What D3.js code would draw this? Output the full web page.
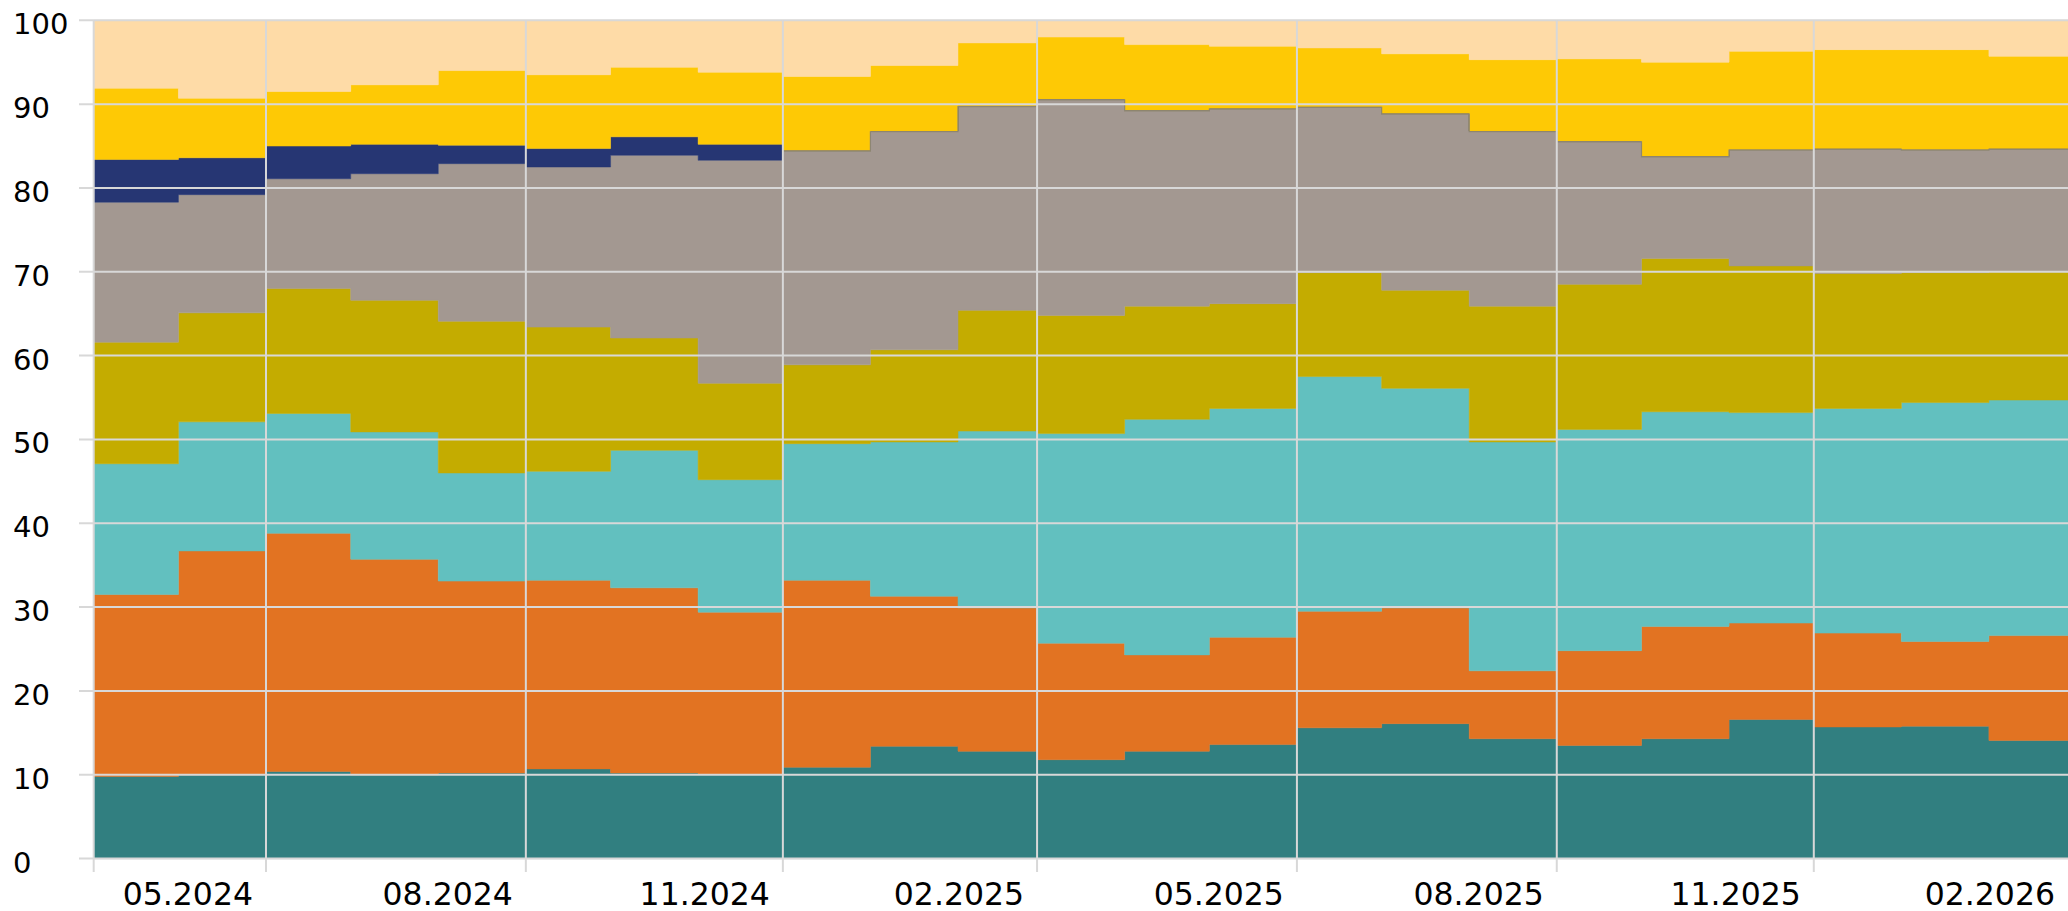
<!DOCTYPE html>
<html>
<head>
<meta charset="utf-8">
<script src="https://cdn.jsdelivr.net/npm/d3@7"></script>
<style>
  html, body { margin: 0; padding: 0; background: #fff; }
  svg { display: block; }
  text { font-family: "DejaVu Sans", Verdana, sans-serif; fill: #000; }
</style>
</head>
<body>
<svg id="chart" width="2068" height="911"></svg>
<script>
// ---- data ----
const months = ["2024-04","2024-05","2024-06","2024-07","2024-08","2024-09","2024-10","2024-11","2024-12",
  "2025-01","2025-02","2025-03","2025-04","2025-05","2025-06","2025-07","2025-08","2025-09","2025-10",
  "2025-11","2025-12","2026-01","2026-02"];
const seriesKeys = ["darkTeal","orange","lightTeal","olive","gray","navy","gold","peach"];
const darkTeal  = [9.8,10.0,10.4,10.0,10.2,10.7,10.2,10.1,10.9,13.4,12.8,11.8,12.8,13.6,15.6,16.1,14.3,13.5,14.3,16.6,15.7,15.8,14.1];
const orange    = [21.7,26.7,28.4,25.7,22.9,22.5,22.1,19.3,22.3,17.9,17.1,13.9,11.5,12.8,13.9,13.8,8.1,11.3,13.4,11.5,11.2,10.1,12.5];
const lightTeal = [15.6,15.4,14.3,15.2,12.9,13.0,16.4,15.8,16.3,18.4,21.1,25.0,28.1,27.3,28.0,26.2,27.3,26.4,25.6,25.1,26.8,28.5,28.1];
const olive     = [14.5,13.0,14.9,15.7,18.1,17.2,13.4,11.5,9.4,11.0,14.4,14.1,13.5,12.5,12.4,11.7,16.2,17.3,18.3,17.5,16.1,15.5,15.3];
const gray      = [16.7,14.1,13.1,15.1,18.8,19.1,21.8,26.6,25.6,26.1,24.4,25.8,23.4,23.3,19.8,21.1,20.9,17.1,12.2,13.9,14.9,14.7,14.7];
const navy      = [5.1,4.4,3.9,3.5,2.2,2.2,2.2,1.9,0,0,0,0,0,0,0,0,0,0,0,0,0,0,0];
const gold      = [8.5,7.1,6.5,7.1,8.9,8.8,8.3,8.6,8.8,7.8,7.5,7.4,7.8,7.4,7.0,7.1,8.5,9.8,11.2,11.7,11.8,11.9,11.0];
const peach     = [8.1,9.3,8.5,7.7,6.0,6.5,5.6,6.2,6.7,5.4,2.7,2.0,2.9,3.1,3.3,4.0,4.7,4.6,5.0,3.7,3.5,3.5,4.3];
const colors    = ["#317f80","#e27322","#62c0bf","#c4ac00","#a39891","#263673","#fec905","#fedba7"];
const yTicks    = [0,10,20,30,40,50,60,70,80,90,100];
const xTickDates = ["2024-04-01","2024-06-01","2024-09-01","2024-12-01","2025-03-01","2025-06-01","2025-09-01","2025-12-01","2026-03-01"];
const xTickLabels = ["","05.2024","08.2024","11.2024","02.2025","05.2025","08.2025","11.2025","02.2026"];
const domainEnd = "2026-03-01";

// ---- build ----
const parse = d3.timeParse("%Y-%m");
const parseDay = d3.timeParse("%Y-%m-%d");
const seriesVals = {darkTeal, orange, lightTeal, olive, gray, navy, gold, peach};
const rows = months.map((m, i) => {
  const r = {date: parse(m)};
  seriesKeys.forEach(k => r[k] = seriesVals[k][i]);
  return r;
});
// closing row so the last step runs to the end of the axis
const lastRow = Object.assign({}, rows[rows.length - 1], {date: parseDay(domainEnd)});
const data = rows.concat([lastRow]);

const plotL = 93.7, plotR = 2068, plotT = 20.3, plotB = 858.6;
const svg = d3.select("#chart");
const x = d3.scaleTime().domain([parse(months[0]), parseDay(domainEnd)]).range([plotL, plotR]);
const y = d3.scaleLinear().domain([0, 100]).range([plotB, plotT]);

const stack = d3.stack().keys(seriesKeys);
const layers = stack(data);
const area = d3.area()
  .x(d => x(d.data.date))
  .y0(d => y(d[0]))
  .y1(d => y(d[1]))
  .curve(d3.curveStepAfter);

svg.append("g").selectAll("path")
  .data(layers)
  .join("path")
  .attr("d", area)
  .attr("fill", (d, i) => colors[i])
  .attr("stroke", (d, i) => colors[i])
  .attr("stroke-width", 0.5);

// thin darker edge under the gold layer where it sits directly on the gray layer
const goldLayer = layers[seriesKeys.indexOf("gold")];
const firstNoNavy = data.findIndex(d => d.navy === 0);
const edge = d3.line()
  .x(d => x(d.data.date))
  .y(d => y(d[0]) + 0.8)
  .curve(d3.curveStepAfter);
svg.append("path")
  .attr("d", edge(goldLayer.slice(firstNoNavy)))
  .attr("fill", "none")
  .attr("stroke", "#8e8672")
  .attr("stroke-width", 1.2);

// grid lines on top
const grid = svg.append("g").attr("stroke", "#d8d8d8").attr("stroke-width", 2);
grid.selectAll("line.h").data(yTicks).join("line")
  .attr("class", "h")
  .attr("x1", 79).attr("x2", plotR)
  .attr("y1", d => y(d)).attr("y2", d => y(d));
grid.selectAll("line.v").data(xTickDates.slice(0, -1)).join("line")
  .attr("class", "v")
  .attr("x1", d => x(parseDay(d))).attr("x2", d => x(parseDay(d)))
  .attr("y1", plotT).attr("y2", 872);

// y labels
svg.append("g").selectAll("text").data(yTicks).join("text")
  .attr("x", 13)
  .attr("y", d => y(d) + 14)
  .attr("font-size", 29)
  .text(d => d);

// x labels (right-aligned before the gridline of the next tick)
svg.append("g").selectAll("text").data(xTickDates.slice(1)).join("text")
  .attr("x", d => x(parseDay(d)) - 13)
  .attr("y", 905)
  .attr("text-anchor", "end")
  .attr("font-size", 31.5)
  .text((d, i) => xTickLabels[i + 1]);
</script>
</body>
</html>
